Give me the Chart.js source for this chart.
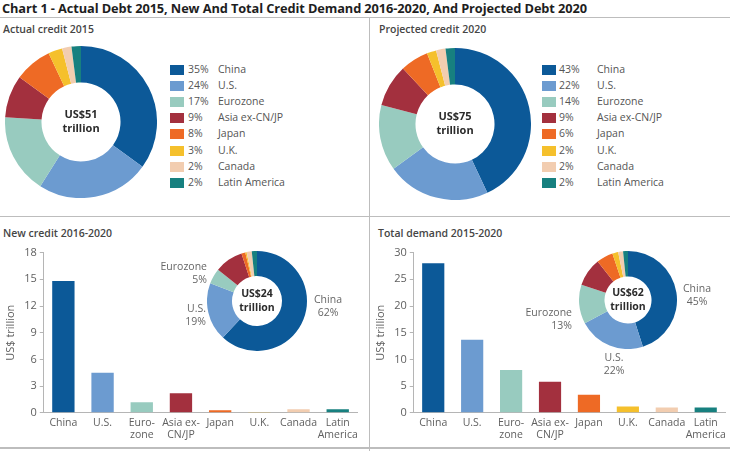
<!DOCTYPE html>
<html>
<head>
<meta charset="utf-8">
<script src="https://cdn.jsdelivr.net/npm/chart.js@4.4.1/dist/chart.umd.min.js"></script>
<style>
  html, body { margin: 0; padding: 0; background: #ffffff; }
  #wrap { position: relative; width: 730px; height: 451px; overflow: hidden; background: #fff;
          font-family: "Open Sans", "DejaVu Sans", sans-serif; color: #555; }
  .abs { position: absolute; }
  #title { left: 2px; top: -1px; font-weight: 700; font-size: 12.8px; color: #1e1e1e; white-space: nowrap; letter-spacing: -0.1px; }
  .sub { font-weight: 600; font-size: 10.5px; color: #454545; white-space: nowrap; }
  .hline { height: 1px; background: #bdbdbd; }
  .vline { width: 1px; background: #bdbdbd; }
  .lg-sq { position: absolute; width: 14px; height: 10px; }
  .lg-t { position: absolute; font-size: 10.5px; color: #555; white-space: nowrap; line-height: 12px; }
  .call { position: absolute; font-size: 10.5px; color: #666; line-height: 13px; white-space: nowrap; }
  canvas { position: absolute; }
</style>
</head>
<body>
<div id="wrap">
  <div id="title" class="abs">Chart 1 - Actual Debt 2015, New And Total Credit Demand 2016-2020, And Projected Debt 2020</div>
  <div class="abs hline" style="left:0;top:17px;width:730px;"></div>
  <div class="abs vline" style="left:369px;top:17px;height:434px;"></div>
  <div class="abs hline" style="left:0;top:216px;width:730px;"></div>
  <div class="abs hline" style="left:0;top:447px;width:730px;height:2px;"></div>

  <div class="abs sub" style="left:3px;top:22px;">Actual credit 2015</div>
  <div class="abs sub" style="left:379px;top:22px;">Projected credit 2020</div>
  <div class="abs sub" style="left:3px;top:226px;">New credit 2016-2020</div>
  <div class="abs sub" style="left:378px;top:226px;">Total demand 2015-2020</div>

  <canvas id="d1" width="152" height="152" style="left:5px;top:46px;"></canvas>
  <canvas id="d2" width="152" height="152" style="left:379px;top:48px;"></canvas>
  <canvas id="b1" width="362" height="202" style="left:0px;top:243px;"></canvas>
  <canvas id="b2" width="360" height="202" style="left:370px;top:243px;"></canvas>
  <canvas id="d3" width="100" height="100" style="left:207px;top:251px;"></canvas>
  <canvas id="d4" width="98" height="98" style="left:579px;top:251px;"></canvas>
  <div id="legends"></div>
  <div id="callouts"></div>
</div>

<script>
// ---------------- DATA ----------------
const regions = ["China", "U.S.", "Eurozone", "Asia ex-CN/JP", "Japan", "U.K.", "Canada", "Latin America"];
const barCategories = [["China"], ["U.S."], ["Euro-", "zone"], ["Asia ex-", "CN/JP"], ["Japan"], ["U.K."], ["Canada"], ["Latin", "America"]];
const actual2015Pct = [35, 24, 17, 9, 8, 3, 2, 2];
const projected2020Pct = [43, 22, 14, 9, 6, 2, 2, 2];
const newCredit = [14.8, 4.5, 1.2, 2.2, 0.3, 0.1, 0.4, 0.4];       // US$ trillion, 2016-2020
const totalDemand = [28.0, 13.7, 8.0, 5.8, 3.4, 1.2, 1.0, 1.0];    // US$ trillion, 2015-2020
const newCreditTicks = [0, 3, 6, 9, 12, 15, 18];
const totalDemandTicks = [0, 5, 10, 15, 20, 25, 30];
const centerActual = ["US$51", "trillion"];
const centerProjected = ["US$75", "trillion"];
const centerNew = ["US$24", "trillion"];
const centerTotal = ["US$62", "trillion"];
const newCreditCallouts = [["Eurozone", "5%"], ["U.S.", "19%"], ["China", "62%"]];
const totalDemandCallouts = [["China", "45%"], ["Eurozone", "13%"], ["U.S.", "22%"]];
const palette = ["#0c5998", "#6c9bd0", "#98cbbf", "#a3303e", "#ee6a25", "#f5c02c", "#f2cdb0", "#17807f"];
const yTitle = "US$ trillion";

// ---------------- HELPERS ----------------
Chart.defaults.font.family = '"Open Sans", "DejaVu Sans", sans-serif';
Chart.defaults.color = '#555';

const centerText = {
  id: 'centerText',
  afterDraw(chart, args, opts) {
    const lines = opts.lines; if (!lines) return;
    const meta = chart.getDatasetMeta(0);
    const arc = meta.data[0]; if (!arc) return;
    const ctx = chart.ctx;
    ctx.save();
    ctx.font = '700 ' + opts.size + 'px "Open Sans", "DejaVu Sans", sans-serif';
    ctx.fillStyle = '#2b2b2b';
    ctx.textAlign = 'center';
    ctx.textBaseline = 'middle';
    const lh = opts.size * 1.25;
    const y0 = arc.y - lh * (lines.length - 1) / 2;
    lines.forEach((l, i) => ctx.fillText(l, arc.x, y0 + i * lh));
    ctx.restore();
  }
};

function donut(id, data, lines, size, cutout) {
  return new Chart(document.getElementById(id), {
    type: 'doughnut',
    data: { labels: regions, datasets: [{ data: data, backgroundColor: palette, borderWidth: 0 }] },
    options: {
      responsive: false, animation: false, devicePixelRatio: 1,
      cutout: cutout,
      layout: { padding: 0 },
      plugins: { legend: { display: false }, tooltip: { enabled: false },
                 centerText: { lines: lines, size: size } }
    },
    plugins: [centerText]
  });
}

function bars(id, data, ticks, padLeft) {
  return new Chart(document.getElementById(id), {
    type: 'bar',
    data: { labels: barCategories, datasets: [{ data: data, backgroundColor: palette, borderWidth: 0,
            categoryPercentage: 1.0, barPercentage: 0.57 }] },
    options: {
      responsive: false, animation: false, devicePixelRatio: 1,
      layout: { padding: { left: padLeft, right: 4, top: 4, bottom: 0 } },
      plugins: { legend: { display: false }, tooltip: { enabled: false } },
      scales: {
        x: {
          grid: { display: false, drawTicks: false },
          border: { display: true, color: '#b5b5b5', width: 1 },
          ticks: { color: '#606060', font: { size: 10.5, lineHeight: 1.15 }, padding: 4, maxRotation: 0, autoSkip: false }
        },
        y: {
          min: ticks[0], max: ticks[ticks.length - 1],
          afterBuildTicks: (axis) => { axis.ticks = ticks.map(v => ({ value: v })); },
          grid: { display: true, drawOnChartArea: false, drawTicks: true, tickLength: 4, color: '#b5b5b5' },
          border: { display: true, color: '#b5b5b5', width: 1 },
          ticks: { color: '#606060', font: { size: 11 }, padding: 3 },
          title: { display: true, text: yTitle, color: '#606060', font: { size: 11 }, padding: { top: 0, bottom: 4 } }
        }
      }
    }
  });
}

// ---------------- CHARTS ----------------
donut('d1', actual2015Pct, centerActual, 11, '52%');
donut('d2', projected2020Pct, centerProjected, 11, '52%');
bars('b1', newCredit, newCreditTicks, 4);
bars('b2', totalDemand, totalDemandTicks, 4);
donut('d3', newCredit, centerNew, 10.5, '50%');
donut('d4', totalDemand, centerTotal, 10.5, '48%');

// ---------------- LEGENDS ----------------
const legendHost = document.getElementById('legends');
function legend(pcts, sqX, pctX, lblX, y0, step) {
  pcts.forEach((p, i) => {
    const y = y0 + i * step;
    const sq = document.createElement('div');
    sq.className = 'lg-sq'; sq.style.left = sqX + 'px'; sq.style.top = (y - 5) + 'px';
    sq.style.background = palette[i];
    legendHost.appendChild(sq);
    const t1 = document.createElement('div');
    t1.className = 'lg-t'; t1.style.left = pctX + 'px'; t1.style.top = (y - 7) + 'px';
    t1.textContent = p + '%';
    legendHost.appendChild(t1);
    const t2 = document.createElement('div');
    t2.className = 'lg-t'; t2.style.left = lblX + 'px'; t2.style.top = (y - 7) + 'px';
    t2.textContent = regions[i];
    legendHost.appendChild(t2);
  });
}
legend(actual2015Pct, 170, 188, 218, 69.5, 16.2);
legend(projected2020Pct, 542, 559, 597, 69.5, 16.2);

// ---------------- CALLOUTS ----------------
const callHost = document.getElementById('callouts');
function callout(lines, x, yTop, align) {
  const d = document.createElement('div');
  d.className = 'call';
  d.style.top = yTop + 'px';
  d.style.textAlign = align;
  if (align === 'right') { d.style.right = (730 - x) + 'px'; }
  else if (align === 'center') { d.style.left = (x - 40) + 'px'; d.style.width = '80px'; }
  else { d.style.left = x + 'px'; }
  d.innerHTML = lines.map(s => s.replace(/&/g, '&amp;')).join('<br>');
  callHost.appendChild(d);
}
callout(newCreditCallouts[0], 207, 260, 'right');
callout(newCreditCallouts[1], 206, 302, 'right');
callout(newCreditCallouts[2], 328, 293, 'center');
callout(totalDemandCallouts[0], 697, 282, 'center');
callout(totalDemandCallouts[1], 572, 306, 'right');
callout(totalDemandCallouts[2], 614, 351, 'center');
</script>
</body>
</html>
